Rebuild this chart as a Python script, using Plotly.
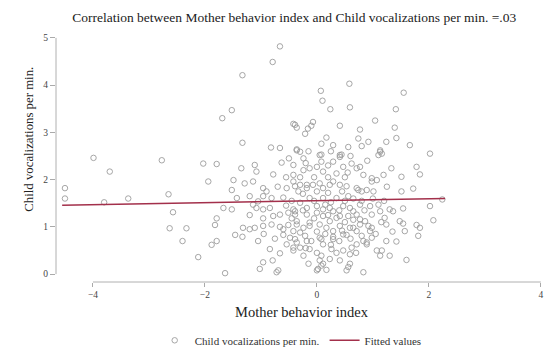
import plotly.graph_objects as go

# ---- data ----
pts = [
(-0.66,4.82),(-0.79,4.49),(-1.33,4.21),(-1.69,3.30),(-1.52,3.47),(-0.39,3.16),(-0.36,3.10),(-1.33,2.78),(-0.82,2.68),(-0.66,2.67),(-0.36,2.64),
(-3.99,2.46),(-2.77,2.41),(-3.70,2.17),(-2.03,2.34),(-1.79,2.33),(-1.35,2.24),(-1.11,2.31),(-1.08,2.17),(-0.63,2.36),(-0.42,2.31),(-0.78,2.11),
(-1.94,1.96),(-1.49,1.99),(-1.29,1.92),(-1.14,1.96),(-1.52,1.78),(-0.96,1.82),(-0.90,1.75),(-0.54,1.82),(-0.39,1.86),(-0.33,1.75),
(-4.5,1.82),(-4.5,1.60),(-3.80,1.52),(-3.37,1.60),(-2.65,1.69),(-2.57,1.31),(-2.63,0.97),(-2.33,0.97),(-2.40,0.70),(-2.12,0.36),
(-1.67,1.40),(-1.52,1.37),(-1.79,1.18),(-1.82,1.04),(-1.79,0.70),(-1.88,0.62),
(-1.43,1.61),(-1.20,1.65),(-1.05,1.54),(-0.96,1.65),(-0.81,1.61),(-1.14,1.47),(-1.08,1.40),(-0.96,1.37),(-0.84,1.40),
(-1.20,1.25),(-0.96,1.18),(-0.78,1.23),(-0.66,1.26),(-0.51,1.30),(-0.39,1.33),
(-1.32,0.98),(-1.20,0.95),(-1.11,0.98),(-0.96,1.02),(-0.81,1.05),(-0.66,1.00),(-0.51,1.04),(-0.36,1.05),
(-1.46,0.83),(-1.33,0.79),(-1.05,0.70),(-0.60,0.83),(-0.48,0.77),(-0.54,0.63),(-0.42,0.56),(-0.36,0.67),(-0.42,0.91),
(-0.84,0.53),(-0.66,0.44),(-0.96,0.25),(-0.79,0.29),(-1.02,0.11),(-0.69,0.08),(-1.64,0.02),
(0.58,4.03),(0.07,3.88),(0.10,3.67),(0.24,3.49),(0.59,3.53),(1.55,3.84),(1.41,3.49),(1.04,3.25),(0.41,3.14),(0.77,3.06),(1.39,3.10),
(-0.21,2.97),(-0.16,3.08),(-0.10,3.14),(-0.07,3.22),(0.08,2.76),(0.17,2.89),(0.29,2.73),(0.56,2.69),(0.74,2.87),(0.80,2.71),(0.92,2.80),
(1.24,2.80),(1.42,2.88),(1.13,2.59),(1.66,2.73),(0.08,2.53),(0.44,2.53),(-0.30,2.59),(2.02,2.55),
(1.78,2.27),(1.84,2.11),(1.51,1.75),(1.72,1.81),(2.02,1.44),(2.24,1.58),(2.08,1.14),(1.78,1.04),(1.84,0.98),(1.81,0.81),(1.54,1.07),
(1.57,0.91),(1.42,0.69),(1.60,0.30),(1.30,0.39),(1.13,0.39),(1.07,0.50),(0.83,0.04),(0.53,0.08),(0.59,0.22),(0.41,0.29),(0.23,0.32),
(0.05,0.29),(0.08,0.18),(-0.15,0.22),(-0.24,0.39),(-0.13,0.53),(-0.30,0.56),(0.26,0.53),(0.47,0.50),(0.62,0.56),(0.71,0.63),(0.83,0.70),
(0.89,0.63),(0.95,0.91),(0.98,0.98),(1.24,1.05),(1.21,1.19),(1.30,1.37),(1.54,1.39),(1.13,1.33),(0.98,1.26),(0.95,1.44),(1.10,1.47),
(0.77,1.47),(0.80,1.75),(1.01,1.75),(0.98,1.96),(1.07,1.99),(1.19,2.10),(1.33,2.24),(1.16,2.55),(1.10,2.52),(0.77,2.27),(0.62,2.34),
(0.41,2.52),(0.05,2.52),(-0.24,2.45),(-0.13,2.24),(0.11,2.17),(0.35,2.13),(0.47,2.27),(-0.42,2.10),(-0.18,1.89),(0.05,1.92),(0.29,1.96),
(0.53,1.86),(0.71,1.82),(0.89,1.78),(-0.13,1.61),(0.11,1.61),(0.35,1.61),(0.56,1.65),(-0.30,1.51),(0.00,1.44),(0.23,1.40),(0.47,1.44),
(0.65,1.33),(-0.18,1.26),(0.11,1.23),(0.35,1.19),(0.56,1.23),(0.77,1.16),(-0.13,1.02),(0.17,0.98),(0.41,1.02),(0.65,0.98),(-0.21,0.81),
(0.05,0.77),(0.29,0.79),(0.53,0.83),(0.80,0.81),(0.11,0.63),
(-0.42,3.18),(-0.36,2.62),(1.13,2.62),(1.51,2.06),(-0.24,2.20),(0.00,2.27),(0.08,2.38),(0.29,2.38),(0.41,2.48),(0.71,2.24),(0.83,2.10),
(0.98,2.03),(-0.42,1.96),(-0.30,1.89),(-0.18,1.82),(-0.07,1.89),(0.11,1.82),(0.23,1.89),(0.41,1.89),(0.74,1.78),
(-0.42,1.37),(-0.39,1.26),(-0.39,0.74),(-0.18,0.70),(0.08,0.74),(0.29,0.74),(0.47,0.84),(0.77,1.05),(0.86,1.12),(0.92,1.02),(0.89,0.67),
(0.98,0.77),(1.16,0.50),(1.36,1.33),(1.48,1.12),(1.24,0.70),(0.59,0.42),(0.11,0.22),(0.02,0.11),(0.08,0.39),(0.56,0.15),(-0.42,0.50),
(-0.18,1.40),(0.00,1.30),(0.11,1.37),(0.29,1.33),(0.41,1.23),(0.59,1.40),(0.71,1.26),(-0.36,1.12),(-0.13,1.09),(0.05,1.05),(0.23,1.12),
(0.59,0.98),(-0.24,0.98),(0.29,0.91),(0.71,0.91),
(-0.72,0.04),(0.00,0.08),(0.17,0.09),
# overlapping circles in the dense core
(-0.30,2.05),(-0.05,2.05),(0.20,2.05),(0.50,2.05),(-0.25,1.70),(0.00,1.75),(0.20,1.72),(0.45,1.75),(0.65,1.60),(-0.45,1.55),
(-0.05,1.55),(0.25,1.52),(0.50,1.55),(0.80,1.55),(-0.25,1.35),(0.15,1.47),(0.40,1.35),(0.85,1.35),(-0.45,1.18),(-0.05,1.18),
(0.20,1.25),(0.50,1.10),(0.65,1.15),(-0.30,0.88),(0.00,0.90),(0.15,0.85),(0.45,0.92),(0.60,0.75),(-0.10,0.70),(0.25,0.62),
(0.40,0.70),(0.70,0.45),(-0.20,0.55),(0.00,0.45),(0.35,0.45),(-0.55,1.45),(-0.60,1.62),(-0.70,1.85),(-0.55,2.05),(-0.20,2.35),
(0.20,2.30),(0.55,2.15),(0.90,2.40),(1.00,1.60),(1.20,1.55),(1.25,1.85),(1.35,0.90),(1.05,0.85),(1.15,1.10),(-0.60,0.95),
(-0.75,0.75),(-0.95,0.85),(-0.15,2.60),(0.25,2.60),(0.60,2.50),(-0.50,2.45),
]
mother_index = [p[0] for p in pts]
child_voc = [p[1] for p in pts]

fit_x = [-4.55, 2.29]
fit_y = [1.46, 1.60]

x_ticks = [-4, -2, 0, 2, 4]
y_ticks = [0, 1, 2, 3, 4, 5]

FONT = "Liberation Serif"
GRAY = "#9c9c9c"

fig = go.Figure()
fig.add_trace(go.Scatter(
    x=mother_index, y=child_voc, mode="markers",
    name="Child vocalizations per min.",
    marker=dict(symbol="circle-open", size=5.5, color=GRAY, line=dict(width=0.9, color=GRAY)),
))
fig.add_trace(go.Scatter(
    x=fit_x, y=fit_y, mode="lines", name="Fitted values",
    line=dict(color="#a3304b", width=1.5),
))

fig.update_layout(
    width=550, height=358,
    margin=dict(l=56, r=3, t=36, b=73),
    paper_bgcolor="white", plot_bgcolor="white",
    font=dict(family=FONT, color="#222"),
    title=dict(text="Correlation between Mother behavior index and Child vocalizations per min. =.03",
               x=0.535, xref="container", xanchor="center",
               y=1 - 17/358, yref="container", yanchor="middle",
               font=dict(family=FONT, size=13.5, color="#222")),
    xaxis=dict(range=[-4.66, 4.11], tickvals=x_ticks, ticks="outside", ticklen=4,
               tickcolor="#aaa", showline=False, showgrid=False, zeroline=False,
               tickfont=dict(size=9.5, color="#444"),
               title=dict(text="Mother behavior index", font=dict(size=14.5, color="#222"), standoff=7)),
    yaxis=dict(range=[-0.167, 5.04], tickvals=y_ticks, ticks="outside", ticklen=5,
               tickcolor="#aaa", showline=False, showgrid=False, zeroline=False,
               tickfont=dict(size=9.5, color="#444")),
    legend=dict(orientation="h", x=0.478, xanchor="center", y=-0.237, yanchor="middle",
                font=dict(size=11, color="#333"), bgcolor="rgba(0,0,0,0)"),
    annotations=[
        dict(text="Child vocalizations per min.", textangle=-90,
             xref="paper", x=-27/491, xanchor="center",
             yref="paper", y=(285-141)/249, yanchor="middle",
             showarrow=False, font=dict(family=FONT, size=12.8, color="#222")),
    ],
    shapes=[
        dict(type="line", xref="paper", yref="y", x0=0, x1=0, y0=0, y1=5,
             line=dict(color="#b0b0b0", width=1)),
        dict(type="line", xref="x", yref="paper", x0=-4, x1=4, y0=0, y1=0,
             line=dict(color="#b0b0b0", width=1)),
    ],
    showlegend=True,
)

fig.write_html("out.html")
